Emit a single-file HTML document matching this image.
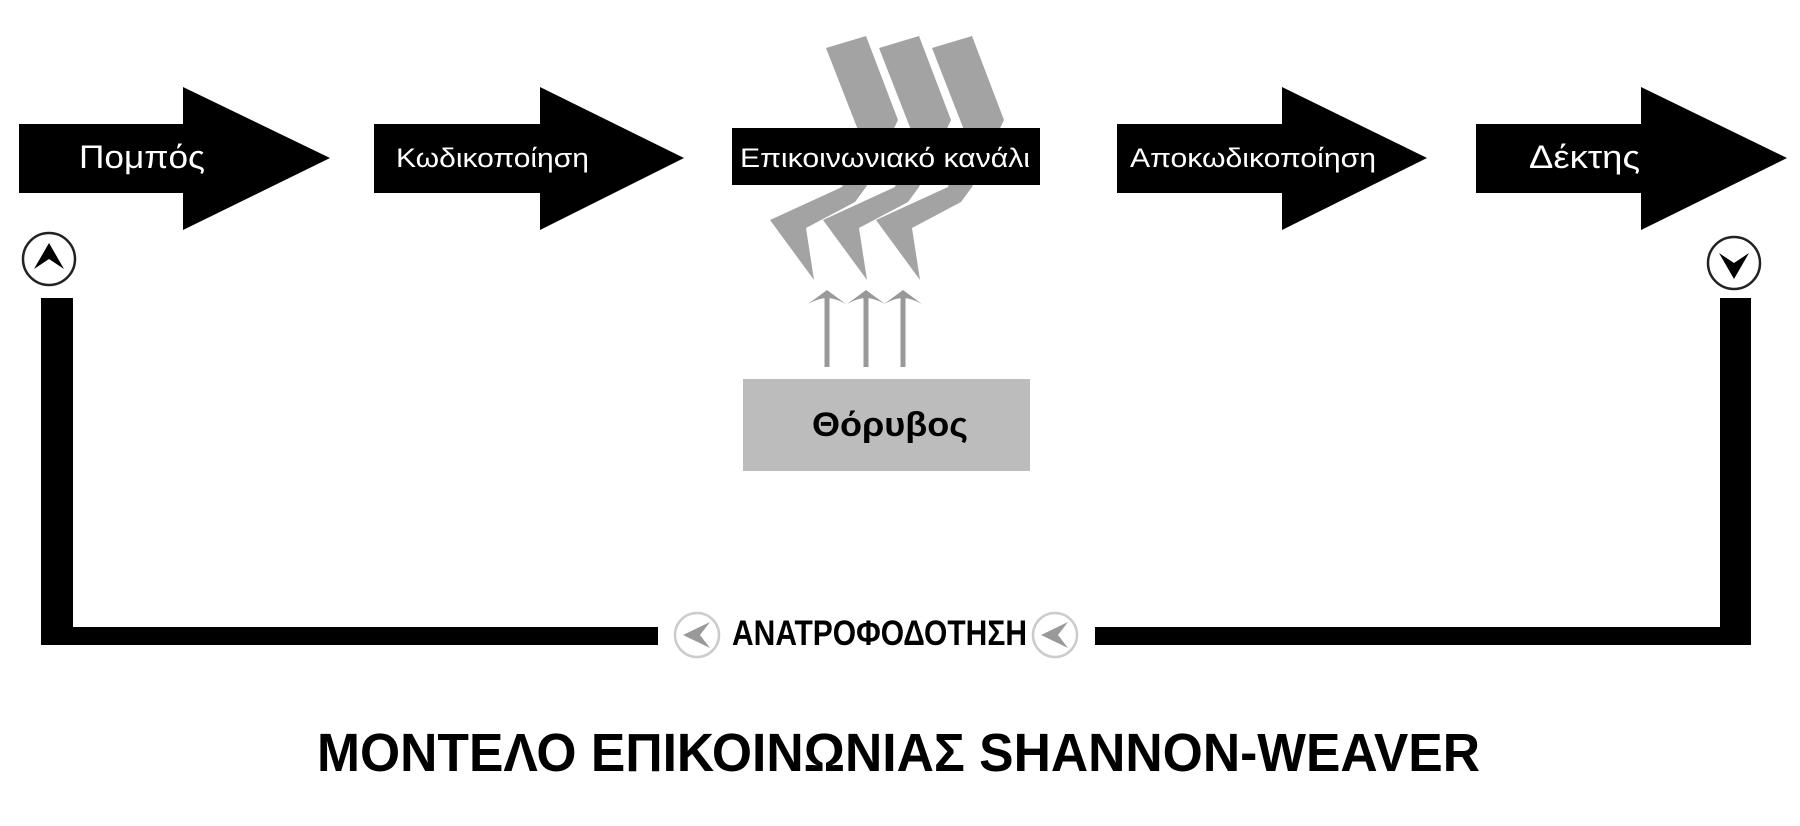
<!DOCTYPE html>
<html><head><meta charset="utf-8"><style>html,body{margin:0;padding:0;background:#fff}svg{display:block}</style></head>
<body>
<svg width="1800" height="826" viewBox="0 0 1800 826" xmlns="http://www.w3.org/2000/svg">
<defs>
<g id="bolt"><polygon points="826,48 866,36 898,120 866,187 855,202 806,228 814,280 770,220 842,187 858,130" fill="#a3a3a3"/></g>
<g id="up"><rect x="-2.5" y="0" width="5" height="75" fill="#999"/><path d="M-19,12 Q-8,4 0,-2 Q8,4 19,12 Q8,6 0,6 Q-8,6 -19,12Z" fill="#999"/></g>
</defs>
<use href="#bolt"/><use href="#bolt" x="53"/><use href="#bolt" x="106"/>
<g fill="#000">
<polygon points="19,124 183,124 183,87 330,158 183,230 183,193 19,193"/>
<polygon points="374,124 540,124 540,87 684,158 540,230 540,193 374,193"/>
<polygon points="1117,124 1282,124 1282,87 1427,158 1282,230 1282,193 1117,193"/>
<polygon points="1476,124 1641,124 1641,87 1787,158 1641,230 1641,193 1476,193"/>
<rect x="732" y="128" width="308" height="57"/>
</g>
<g fill="#fff" font-family="Liberation Sans, sans-serif">
<text x="79" y="168" font-size="32" textLength="126" lengthAdjust="spacingAndGlyphs">Πομπός</text>
<text x="396" y="167" font-size="27" textLength="193" lengthAdjust="spacingAndGlyphs">Κωδικοποίηση</text>
<text x="740" y="167" font-size="27" textLength="290" lengthAdjust="spacingAndGlyphs">Επικοινωνιακό κανάλι</text>
<text x="1130" y="167" font-size="27" textLength="246" lengthAdjust="spacingAndGlyphs">Αποκωδικοποίηση</text>
<text x="1529" y="168" font-size="32" textLength="111" lengthAdjust="spacingAndGlyphs">Δέκτης</text>
</g>
<use href="#up" x="827" y="292"/><use href="#up" x="866" y="292"/><use href="#up" x="903" y="292"/>
<rect x="743" y="379" width="287" height="92" fill="#bcbcbc"/>
<text x="812" y="436" font-family="Liberation Sans, sans-serif" font-weight="bold" font-size="34" textLength="156" lengthAdjust="spacingAndGlyphs">Θόρυβος</text>
<g fill="#000">
<rect x="41" y="298" width="32" height="347"/>
<rect x="41" y="627" width="617" height="18"/>
<rect x="1095" y="627" width="656" height="18"/>
<rect x="1720" y="298" width="31" height="347"/>
</g>
<circle cx="49" cy="259" r="26" fill="#fff" stroke="#222" stroke-width="2.5"/>
<path d="M34,269 L49,243 L64,269 L49,259Z" fill="#000"/>
<circle cx="1734" cy="263" r="26" fill="#fff" stroke="#222" stroke-width="2.5"/>
<path d="M1719,253 L1734,279 L1749,253 L1734,263Z" fill="#000"/>
<circle cx="697" cy="635" r="22" fill="#fff" stroke="#ccc" stroke-width="2.5"/>
<path d="M710,622 L683,635 L710,648 L700,635Z" fill="#999"/>
<circle cx="1055" cy="635" r="22" fill="#fff" stroke="#ccc" stroke-width="2.5"/>
<path d="M1068,622 L1041,635 L1068,648 L1058,635Z" fill="#999"/>
<text x="732" y="645" font-family="Liberation Sans, sans-serif" font-weight="bold" font-size="35" textLength="295" lengthAdjust="spacingAndGlyphs">ΑΝΑΤΡΟΦΟΔΟΤΗΣΗ</text>
<text x="317" y="771" font-family="Liberation Sans, sans-serif" font-weight="bold" font-size="54" textLength="1163" lengthAdjust="spacingAndGlyphs">ΜΟΝΤΕΛΟ ΕΠΙΚΟΙΝΩΝΙΑΣ SHANNON-WEAVER</text>
</svg>
</body></html>
